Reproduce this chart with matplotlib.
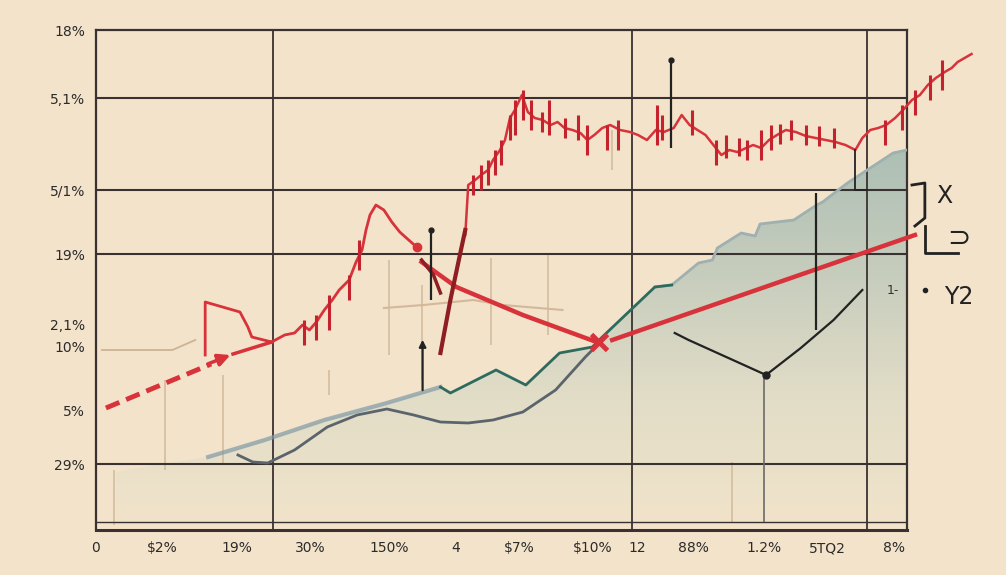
import matplotlib.pyplot as plt
import numpy as np
from matplotlib.colors import LinearSegmentedColormap
from matplotlib.patches import Polygon

# background and ink colours
bg = "#f3e3ca"
ink = "#3a3232"
red = "#d8323a"
darkred = "#8e1e22"

# axis labels (as printed on the chart)
y_pos = [50, 43.2, 34.0, 27.6, 20.6, 18.3, 12.0, 6.6]
y_labels = ["18%", "5,1%", "5/1%", "19%", "2,1%", "10%", "5%", "29%"]
x_pos = [-0.6, 6.1, 13.6, 21.0, 28.9, 35.6, 42.0, 49.4, 53.9, 59.6, 66.7, 73.1, 79.8]
x_labels = ["0", "$2%", "19%", "30%", "150%", "4", "$7%", "$10%", "12", "88%", "1.2%", "5TQ2", "8%"]

grid_y = [43.2, 34.0, 27.6, 6.6]
grid_x = [17.2, 53.4, 77.1]

# shaded area (upper edge)
area_x = [1.4, 5.4, 10.7, 16.4, 22.4, 28.7, 34.1, 35.1, 39.7, 42.7, 46.1, 49.4, 50.4,
          55.7, 57.4, 60.1, 61.5, 62.0, 64.4, 65.8, 66.3, 69.7, 72.0, 72.6, 75.1, 79.7, 81.1]
area_y = [5.8, 6.5, 7.3, 9.0, 11.0, 12.7, 14.3, 13.7, 16.0, 14.5, 17.7, 18.3, 19.3,
          24.3, 24.5, 26.7, 27.0, 28.2, 29.7, 29.4, 30.6, 31.0, 32.5, 32.8, 34.7, 37.7, 38.0]

# grey-blue rising line and teal segment
blue_x = [10.7, 16.4, 22.4, 28.7, 34.1]
blue_y = [7.3, 9.0, 11.0, 12.7, 14.3]
teal_x = [34.1, 35.1, 39.7, 42.7, 46.1, 49.4, 50.4, 55.7, 57.4]
teal_y = [14.3, 13.7, 16.0, 14.5, 17.7, 18.3, 19.3, 24.3, 24.5]

# dark grey curve
grey_x = [13.7, 15.2, 16.7, 19.4, 22.7, 25.7, 28.7, 31.4, 34.1, 36.9, 39.4, 42.4, 45.7, 48.7, 50.4]
grey_y = [7.5, 6.8, 6.7, 8.0, 10.3, 11.5, 12.1, 11.5, 10.8, 10.7, 11.0, 11.8, 14.0, 17.3, 19.0]

# red price line, lower part
red_box_x = [10.4, 10.4, 13.9, 14.7, 15.1, 17.1]
red_box_y = [17.5, 22.8, 21.8, 20.3, 19.3, 18.8]
red_low_x = [17.1, 18.4, 19.4, 20.2, 20.9, 21.6, 22.4, 23.2, 23.9, 24.9, 25.6, 26.2, 26.6,
             27.0, 27.6, 28.4, 29.2, 30.0, 30.9, 31.7]
red_low_y = [18.8, 19.5, 19.7, 20.5, 20.0, 20.8, 22.0, 23.0, 24.0, 25.0, 26.8, 28.0, 30.0,
             31.5, 32.5, 32.0, 30.8, 29.8, 29.0, 28.3]

# red price line, upper part
red_up_x = [36.6, 36.9, 37.6, 38.2, 38.9, 39.4, 40.1, 40.6, 41.1, 41.6, 42.3, 42.9, 43.6, 44.4,
            45.2, 45.9, 46.6, 47.4, 48.2, 48.9, 49.6, 50.4, 51.2, 52.2, 53.2, 54.0, 54.9, 55.8,
            56.6, 57.6, 58.4, 59.2, 60.0, 60.8, 61.6, 62.4, 63.2, 64.0, 64.9, 65.6, 66.4, 67.2,
            68.0, 68.9, 69.9, 70.9, 71.9, 72.9, 73.9, 74.9, 75.9, 76.6, 77.4, 78.2, 79.0, 79.9,
            80.7, 81.6, 82.4, 83.2, 84.0, 84.9, 85.6, 86.2, 86.9, 87.6]
red_up_y = [29.5, 34.5, 35.0, 35.5, 36.0, 37.0, 38.0, 39.0, 41.2, 42.0, 43.5, 41.8, 41.2, 41.0,
            40.5, 40.8, 40.2, 40.0, 39.7, 39.0, 39.5, 40.2, 40.5, 40.0, 39.8, 39.5, 39.0, 40.0,
            39.8, 40.2, 41.5, 40.5, 40.0, 39.5, 38.5, 37.5, 38.0, 37.8, 38.2, 38.5, 38.2, 39.0,
            39.5, 40.0, 39.8, 39.4, 39.2, 39.0, 38.8, 38.5, 38.0, 39.2, 40.0, 40.2, 40.5, 41.2,
            42.0, 43.0, 43.5, 44.5, 45.2, 45.8, 46.2, 46.8, 47.2, 47.6]

# candle wicks: x, low, high
wick_x = [20.4, 21.6, 22.9, 24.9, 25.9, 37.4, 38.2, 38.9, 39.6, 40.2, 41.1, 41.6, 42.4, 43.2,
          44.3, 45.0, 46.6, 48.0, 48.9, 50.9, 52.0, 55.9, 56.4, 59.4, 61.9, 62.9, 64.2, 65.0,
          66.4, 67.4, 68.3, 69.4, 70.9, 72.2, 73.7, 78.9, 80.6, 81.9, 83.4, 84.6]
wick_lo = [18.5, 19.0, 20.0, 23.0, 26.0, 33.5, 34.0, 34.5, 35.5, 36.5, 39.0, 39.5, 41.0, 40.0,
           39.8, 39.5, 39.2, 39.0, 37.5, 38.0, 38.0, 38.5, 39.0, 39.5, 36.5, 37.2, 37.4, 37.0,
           37.0, 38.0, 38.6, 39.0, 38.5, 38.4, 38.2, 38.5, 40.0, 41.5, 43.0, 44.0]
wick_hi = [21.0, 21.5, 23.5, 25.5, 29.0, 35.5, 36.5, 37.0, 38.0, 39.0, 41.5, 43.0, 44.0, 43.0,
           41.8, 43.0, 41.2, 41.5, 40.5, 40.5, 41.0, 42.5, 41.5, 42.0, 39.0, 39.5, 39.2, 39.0,
           40.0, 40.5, 40.6, 41.0, 40.5, 40.4, 40.2, 41.0, 42.5, 44.0, 45.5, 47.0]

# dark red strokes
stroke_a_x = [32.2, 33.4, 34.1]
stroke_a_y = [27.0, 25.5, 23.7]
stroke_b_x = [34.1, 35.1, 36.1, 36.6]
stroke_b_y = [17.7, 23.0, 27.7, 30.0]

# red trend lines
trend_down_x = [32.2, 35.7, 42.4, 50.1]
trend_down_y = [26.8, 24.3, 21.5, 18.7]
trend_up_x = [51.4, 81.9]
trend_up_y = [19.0, 29.5]
dash_x = [0.4, 11.0]
dash_y = [12.2, 16.6]

# black V line
v_x = [57.7, 59.1, 66.9, 70.4, 73.7, 76.6]
v_y = [19.7, 19.0, 15.5, 18.2, 21.0, 24.0]

# faint tan lines
tan_vx = [1.2, 6.4, 12.2, 22.9, 28.9, 32.2, 39.2, 44.9, 51.4, 63.5]
tan_vlo = [0.5, 6.0, 6.5, 13.5, 17.5, 15.0, 18.5, 19.5, 36.0, 0.8]
tan_vhi = [6.0, 15.0, 15.5, 16.0, 27.0, 24.5, 27.2, 27.5, 40.0, 6.8]
tan_h1_x = [0.0, 7.1, 9.4]
tan_h1_y = [18.0, 18.0, 19.0]
tan_h2_x = [28.4, 32.4, 37.4, 40.4, 46.4]
tan_h2_y = [22.2, 22.5, 23.0, 22.5, 22.0]

fig = plt.figure(figsize=(10.06, 5.75), dpi=100, facecolor=bg)
ax = fig.add_axes([96 / 1006, 45 / 575, 811 / 1006, 500 / 575])
ax.set_facecolor(bg)
ax.set_xlim(0, 81.1)
ax.set_ylim(0, 50)

# gradient area
poly_x = [area_x[0]] + area_x + [area_x[-1]]
poly_y = [0.5] + area_y + [0.5]
poly = Polygon(np.column_stack([poly_x, poly_y]), closed=True, facecolor="none", edgecolor="none")
ax.add_patch(poly)
cmap = LinearSegmentedColormap.from_list("fade", ["#f1e3ca", "#e2ddc7", "#c7cdbd", "#adbfb4"])
grad = np.linspace(0, 1, 256).reshape(-1, 1)
im = ax.imshow(grad, extent=[0, 81.1, 0.5, 38], origin="lower", aspect="auto", cmap=cmap, zorder=1)
im.set_clip_path(poly)

# faint tan lines
ax.vlines(tan_vx, tan_vlo, tan_vhi, color="#cdb394", lw=1.2, alpha=0.8, zorder=2)
ax.plot(tan_h1_x, tan_h1_y, color="#cdb394", lw=1.3, zorder=2)
ax.plot(tan_h2_x, tan_h2_y, color="#d4b89a", lw=1.5, zorder=2)

# grid
for gy in grid_y:
    ax.axhline(gy, color=ink, lw=1.5, zorder=3)
for gx in grid_x:
    ax.axvline(gx, color=ink, lw=1.3, zorder=3)
ax.axhline(0.8, color=ink, lw=1.0, zorder=3)
for s in ax.spines.values():
    s.set_color(ink)
    s.set_linewidth(1.6)
ax.spines["bottom"].set_linewidth(2.2)

# area lines
ax.plot(blue_x, blue_y, color="#7f9aa6", lw=3, alpha=0.7, zorder=4)
ax.plot(teal_x, teal_y, color="#2e6b5f", lw=2, zorder=5)
ax.plot(area_x[13:], area_y[13:], color="#9fb0b0", lw=2, zorder=4)
ax.plot(grey_x, grey_y, color="#5a646c", lw=2, zorder=5)
ax.vlines([66.7], [0.8], [15.5], color="#6a6a6a", lw=1.2, zorder=4)

# red series
ax.plot(dash_x, dash_y, color=red, lw=3.5, ls=(0, (3, 1.5)), zorder=6, clip_on=False)
ax.annotate("", xy=(13.2, 17.6), xytext=(10.4, 16.5),
            arrowprops=dict(arrowstyle="-|>", color=red, lw=2.5, mutation_scale=18), zorder=6)
ax.plot([13.2, 17.1], [17.6, 18.8], color=red, lw=2.5, zorder=6)
ax.plot(red_box_x, red_box_y, color=red, lw=2, zorder=6)
ax.plot(red_low_x, red_low_y, color=red, lw=2, zorder=6)
ax.plot(red_up_x, red_up_y, color=red, lw=1.8, zorder=6, clip_on=False)
ax.vlines(wick_x, wick_lo, wick_hi, color="#c4222c", lw=2.2, zorder=6, clip_on=False)
ax.plot([31.7], [28.3], "o", color=red, ms=6, zorder=7)
ax.plot(stroke_a_x, stroke_a_y, color=darkred, lw=2.5, zorder=7)
ax.plot(stroke_b_x, stroke_b_y, color=darkred, lw=3, zorder=7)
ax.plot(trend_down_x, trend_down_y, color=red, lw=3.2, zorder=6)
ax.plot(trend_up_x, trend_up_y, color=red, lw=3.2, zorder=6, clip_on=False)
ax.plot([50.1], [18.8], marker="x", color=red, ms=12, mew=3.5, zorder=7)

# black marks
ax.plot(v_x, v_y, color="#222222", lw=1.6, zorder=7)
ax.plot([66.9], [15.5], "o", color="#222222", ms=5, zorder=7)
ax.vlines([57.3, 33.1, 71.9], [38.2, 23.0, 20.0], [47.0, 30.0, 33.7], color="#222222", lw=1.6, zorder=7)
ax.plot([57.3, 33.1], [47.0, 30.0], "o", color="#222222", ms=3.5, zorder=7)
ax.annotate("", xy=(32.3, 19.3), xytext=(32.3, 13.7),
            arrowprops=dict(arrowstyle="-|>", color="#222222", lw=1.6), zorder=7)
ax.plot([75.9, 75.9, 77.1], [38.0, 34.0, 34.0], color="#222222", lw=1.3, zorder=7)

# right-side scribbles
ax.plot([81.6, 82.9, 82.9, 81.9], [34.5, 34.7, 31.2, 30.4], color="#222222", lw=2, clip_on=False)
ax.plot([82.9, 82.9, 86.2], [30.4, 27.7, 27.7], color="#222222", lw=2, clip_on=False)
ax.text(84.9, 33.4, "X", fontsize=17, color="#222222", ha="center", va="center", clip_on=False)
ax.text(86.3, 29.2, "\u2283", fontsize=20, color="#222222", ha="center", va="center", clip_on=False)
ax.text(79.7, 24.0, "1-", fontsize=9, color="#333333", ha="center", va="center", clip_on=False)
ax.plot([82.9], [24.0], "o", color="#222222", ms=3, clip_on=False)
ax.text(86.3, 23.3, "Y2", fontsize=17, color="#222222", ha="center", va="center", clip_on=False)

# tick labels
ax.set_yticks(y_pos)
ax.set_yticklabels(y_labels, fontsize=10, color="#2b2b2b")
ax.set_xticks(x_pos)
ax.set_xticklabels(x_labels, fontsize=10, color="#2b2b2b")
ax.tick_params(length=0, pad=8)

plt.savefig("out.png", dpi=100, facecolor=bg)
